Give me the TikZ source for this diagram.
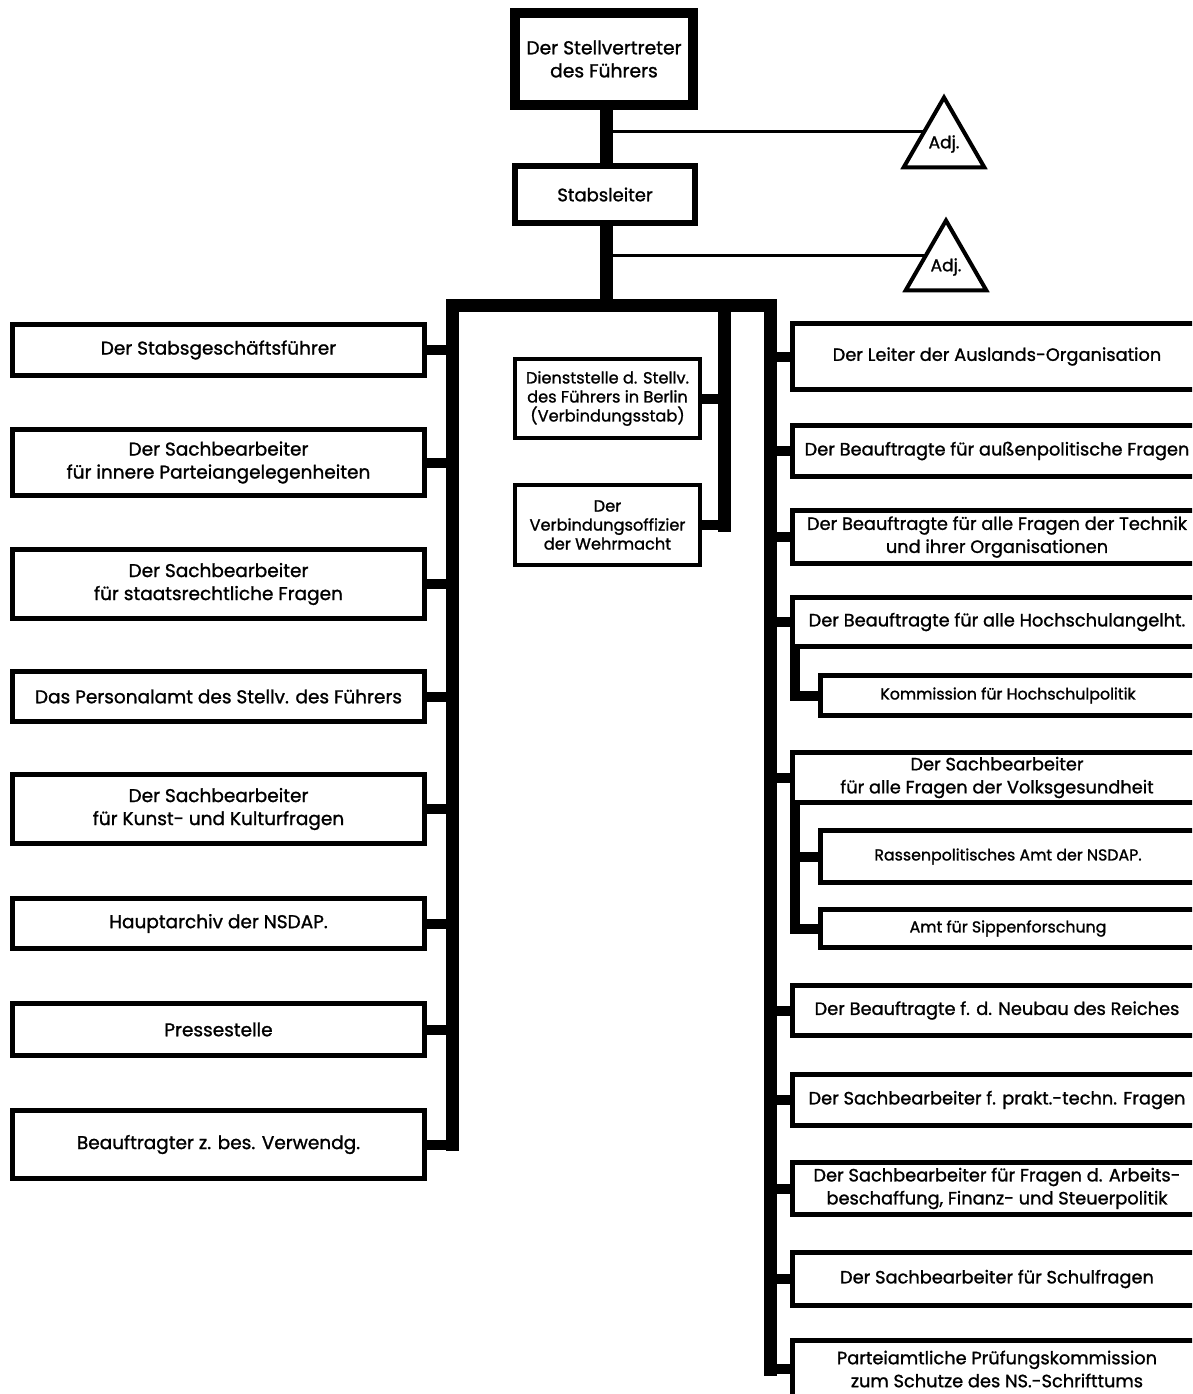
\documentclass[tikz,border=0pt]{standalone}
\usepackage{fontspec}
\setmainfont{Poppins}[FakeBold=1.2]
\usetikzlibrary{shapes.geometric}
\pgfdeclarelayer{bg}
\pgfsetlayers{bg,main}
\begin{document}
\begin{tikzpicture}[x=1pt,y=-1pt,
  box/.style={draw, fill=white, align=center, inner sep=0pt, line width=5pt,
    font=\fontsize{18}{23}\selectfont},
  lbox/.style={box, minimum width=412pt, font=\fontsize{18.5}{23}\selectfont},
  rbox/.style={box, minimum width=409pt, font=\fontsize{17.8}{23}\selectfont},
  kbox/.style={box, minimum width=375pt, font=\fontsize{15.8}{18}\selectfont},
  mbox/.style={box, line width=4pt, minimum width=185pt, font=\fontsize{16.2}{19}\selectfont},
  tri/.style={regular polygon, regular polygon sides=3, draw, fill=white, line width=4pt,
    minimum size=93pt, inner sep=0pt, font=\fontsize{17}{17}\selectfont},
  trunk/.style={line width=13pt, line cap=rect, line join=miter},
  conn/.style={line width=10pt, line join=miter},
  adj/.style={line width=3pt}]
\useasboundingbox (0,0) rectangle (1192,1394);
\clip (0,0) rectangle (1192,1394);

% top
\node[box, line width=10pt, minimum width=178pt, minimum height=92pt, font=\fontsize{18.7}{23}\selectfont] (top) at (604,59) {Der Stellvertreter\\des Führers};
\node[box, line width=6pt, minimum width=180pt, minimum height=57pt] (stab) at (605,194.5) {Stabsleiter};
\node[tri] (t1) at (944,144) {Adj.};
\node[tri] (t2) at (946,267) {Adj.};

% left column
\node[lbox, minimum height=51pt] (b1) at (218.5,350) {Der Stabsgeschäftsführer};
\node[lbox, minimum height=66pt] (b2) at (218.5,462.5) {Der Sachbearbeiter\\für innere Parteiangelegenheiten};
\node[lbox, minimum height=69pt] (b3) at (218.5,584) {Der Sachbearbeiter\\für staatsrechtliche Fragen};
\node[lbox, minimum height=50pt] (b4) at (218.5,696.5) {Das Personalamt des Stellv. des Führers};
\node[lbox, minimum height=69pt] (b5) at (218.5,809) {Der Sachbearbeiter\\für Kunst- und Kulturfragen};
\node[lbox, minimum height=50pt] (b6) at (218.5,923.5) {Hauptarchiv der NSDAP.};
\node[lbox, minimum height=52pt] (b7) at (218.5,1029.5) {Pressestelle};
\node[lbox, minimum height=68pt] (b8) at (218.5,1144.5) {Beauftragter z. bes. Verwendg.};

% middle column
\node[mbox, minimum height=79pt] (d1) at (607.5,398.5) {Dienststelle d. Stellv.\\des Führers in Berlin\\(Verbindungsstab)};
\node[mbox, minimum height=80pt] (d2) at (607.5,525) {Der\\Verbindungsoffizier\\der Wehrmacht};

% right column
\node[rbox, minimum height=66pt] (r1) at (997,356.5) {Der Leiter der Auslands-Organisation};
\node[rbox, minimum height=51pt] (r2) at (997,451) {Der Beauftragte für außenpolitische Fragen};
\node[rbox, minimum height=53pt] (r3) at (997,537) {Der Beauftragte für alle Fragen der Technik\\und ihrer Organisationen};
\node[rbox, minimum height=49pt] (r4) at (997,622) {Der Beauftragte für alle Hochschulangelht.};
\node[kbox, minimum height=40pt] (k1) at (1008,695.5) {Kommission für Hochschulpolitik};
\node[rbox, minimum height=50pt] (r5) at (997,777.5) {Der Sachbearbeiter\\für alle Fragen der Volksgesundheit};
\node[kbox, minimum height=52pt] (k2) at (1008,856.5) {Rassenpolitisches Amt der NSDAP.};
\node[kbox, minimum height=38pt] (k3) at (1008,928.5) {Amt für Sippenforschung};
\node[rbox, minimum height=50pt] (r6) at (997,1010.5) {Der Beauftragte f. d. Neubau des Reiches};
\node[rbox, minimum height=51pt] (r7) at (997,1100) {Der Sachbearbeiter f. prakt.-techn. Fragen};
\node[rbox, minimum height=52pt] (r8) at (997,1188.5) {Der Sachbearbeiter für Fragen d. Arbeits-\\beschaffung, Finanz- und Steuerpolitik};
\node[rbox, minimum height=53pt] (r9) at (997,1279) {Der Sachbearbeiter für Schulfragen};
\node[rbox, minimum height=57pt] (r10) at (997,1369) {Parteiamtliche Prüfungskommission\\zum Schutze des NS.-Schrifttums};

% connectors
\coordinate (T) at (606,0);
\coordinate (J) at (606,305);
\coordinate (LT) at (452,305);
\coordinate (RT) at (770,305);
\coordinate (MT) at (724,305);
\coordinate (S) at (795,0);
\coordinate (A1) at (606,132);
\coordinate (A2) at (606,255);
\begin{pgfonlayer}{bg}
\fill[white] (0,0) rectangle (1192,1394);
\draw[trunk] (top.south -| T) -- (stab.north -| T);
\draw[trunk] (stab.south -| T) -- (J);
\draw[adj] (A1) -- (A1 -| t1.center);
\draw[adj] (A2) -- (A2 -| t2.center);
\draw[trunk] (b8.east -| LT) -- (LT) -- (RT) -- (r10.west -| RT);
\draw[trunk] (MT) -- (d2.east -| MT);
\foreach \n in {b1,b2,b3,b4,b5,b6,b7,b8}
  \draw[conn] (\n.east) -- (\n.east -| LT);
\foreach \n in {d1,d2}
  \draw[conn] (\n.east) -- (\n.east -| MT);
\foreach \n in {r1,r2,r3,r4,r5,r6,r7,r8,r9,r10}
  \draw[conn] (\n.west -| RT) -- (\n.west);
\draw[conn] (r4.south -| S) -- (k1.west -| S) -- (k1.west);
\draw[conn] (r5.south -| S) -- (k3.west -| S) -- (k3.west);
\draw[conn] (k2.west -| S) -- (k2.west);
\end{pgfonlayer}
\end{tikzpicture}
\end{document}
